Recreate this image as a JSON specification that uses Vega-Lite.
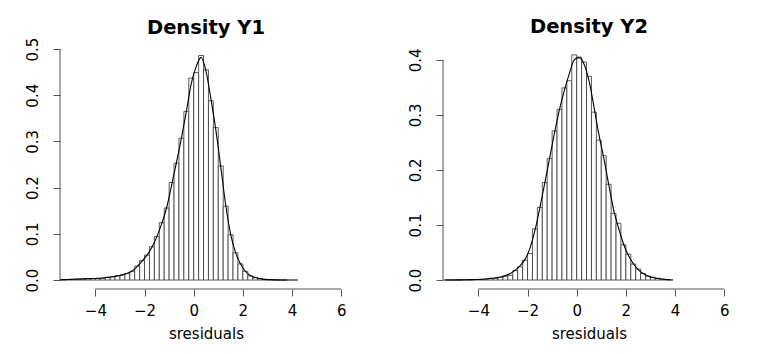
{
  "$schema": "https://vega.github.io/schema/vega-lite/v6.json",
  "padding": {"left": 25, "top": 16, "right": 5, "bottom": 5},
  "background": "white",
  "bounds": "flush",
  "spacing": 91,
  "config": {
    "font": "DejaVu Sans",
    "view": {"stroke": null},
    "axisX": {"domain": false, "grid": false, "tickSize": 7, "tickColor": "#555", "labelFontSize": 15, "labelColor": "black", "labelPadding": 7, "titleFontSize": 15, "titleFontWeight": "normal", "titleColor": "black", "titlePadding": 8, "format": "d", "values": [-4, -2, 0, 2, 4, 6], "labelFlush": false, "labelOverlap": false},
    "axisY": {"domain": false, "grid": false, "tickSize": 7, "tickColor": "#555", "labelFontSize": 15, "labelColor": "black", "labelAngle": -90, "labelPadding": 13, "format": ".1f", "labelOverlap": false},
    "title": {"fontSize": 19.5, "fontWeight": "bold", "color": "black", "baseline": "alphabetic", "anchor": "middle"}
  },
  "datasets": {
    "h1": [
      {"bin0": -5.6, "bin1": -5.4, "density": 0.0005},
      {"bin0": -5.4, "bin1": -5.2, "density": 0.0007},
      {"bin0": -5.2, "bin1": -5.0, "density": 0.001},
      {"bin0": -5.0, "bin1": -4.8, "density": 0.0015},
      {"bin0": -4.8, "bin1": -4.6, "density": 0.002},
      {"bin0": -4.6, "bin1": -4.4, "density": 0.0025},
      {"bin0": -4.4, "bin1": -4.2, "density": 0.003},
      {"bin0": -4.2, "bin1": -4.0, "density": 0.003},
      {"bin0": -4.0, "bin1": -3.8, "density": 0.0035},
      {"bin0": -3.8, "bin1": -3.6, "density": 0.004},
      {"bin0": -3.6, "bin1": -3.4, "density": 0.006},
      {"bin0": -3.4, "bin1": -3.2, "density": 0.007},
      {"bin0": -3.2, "bin1": -3.0, "density": 0.0095},
      {"bin0": -3.0, "bin1": -2.8, "density": 0.011},
      {"bin0": -2.8, "bin1": -2.6, "density": 0.014},
      {"bin0": -2.6, "bin1": -2.4, "density": 0.019},
      {"bin0": -2.4, "bin1": -2.2, "density": 0.030},
      {"bin0": -2.2, "bin1": -2.0, "density": 0.042},
      {"bin0": -2.0, "bin1": -1.8, "density": 0.054},
      {"bin0": -1.8, "bin1": -1.6, "density": 0.072},
      {"bin0": -1.6, "bin1": -1.4, "density": 0.094},
      {"bin0": -1.4, "bin1": -1.2, "density": 0.124},
      {"bin0": -1.2, "bin1": -1.0, "density": 0.156},
      {"bin0": -1.0, "bin1": -0.8, "density": 0.211},
      {"bin0": -0.8, "bin1": -0.6, "density": 0.253},
      {"bin0": -0.6, "bin1": -0.4, "density": 0.307},
      {"bin0": -0.4, "bin1": -0.2, "density": 0.365},
      {"bin0": -0.2, "bin1": 0.0, "density": 0.437},
      {"bin0": 0.0, "bin1": 0.2, "density": 0.449},
      {"bin0": 0.2, "bin1": 0.4, "density": 0.486},
      {"bin0": 0.4, "bin1": 0.6, "density": 0.455},
      {"bin0": 0.6, "bin1": 0.8, "density": 0.388},
      {"bin0": 0.8, "bin1": 1.0, "density": 0.330},
      {"bin0": 1.0, "bin1": 1.2, "density": 0.247},
      {"bin0": 1.2, "bin1": 1.4, "density": 0.160},
      {"bin0": 1.4, "bin1": 1.6, "density": 0.098},
      {"bin0": 1.6, "bin1": 1.8, "density": 0.059},
      {"bin0": 1.8, "bin1": 2.0, "density": 0.035},
      {"bin0": 2.0, "bin1": 2.2, "density": 0.019},
      {"bin0": 2.2, "bin1": 2.4, "density": 0.009},
      {"bin0": 2.4, "bin1": 2.6, "density": 0.005},
      {"bin0": 2.6, "bin1": 2.8, "density": 0.003},
      {"bin0": 2.8, "bin1": 3.0, "density": 0.0015},
      {"bin0": 3.0, "bin1": 3.2, "density": 0.0008},
      {"bin0": 3.2, "bin1": 3.4, "density": 0.0004},
      {"bin0": 3.4, "bin1": 3.6, "density": 0.0002},
      {"bin0": 3.6, "bin1": 3.8, "density": 0.0001}
    ],
    "d1": [
      {"x": -5.6, "density": 0.0003},
      {"x": -5.5, "density": 0.0005},
      {"x": -5.3, "density": 0.0008},
      {"x": -5.1, "density": 0.0012},
      {"x": -4.9, "density": 0.0016},
      {"x": -4.7, "density": 0.002},
      {"x": -4.5, "density": 0.0025},
      {"x": -4.3, "density": 0.003},
      {"x": -4.1, "density": 0.0033},
      {"x": -3.9, "density": 0.0038},
      {"x": -3.7, "density": 0.0045},
      {"x": -3.5, "density": 0.0058},
      {"x": -3.3, "density": 0.0072},
      {"x": -3.1, "density": 0.009},
      {"x": -2.9, "density": 0.0112},
      {"x": -2.7, "density": 0.0145},
      {"x": -2.5, "density": 0.0195},
      {"x": -2.3, "density": 0.029},
      {"x": -2.1, "density": 0.041},
      {"x": -1.9, "density": 0.054},
      {"x": -1.7, "density": 0.071},
      {"x": -1.5, "density": 0.094},
      {"x": -1.3, "density": 0.122},
      {"x": -1.1, "density": 0.157},
      {"x": -0.9, "density": 0.205},
      {"x": -0.7, "density": 0.255},
      {"x": -0.5, "density": 0.307},
      {"x": -0.3, "density": 0.365},
      {"x": -0.1, "density": 0.425},
      {"x": 0.1, "density": 0.462},
      {"x": 0.3, "density": 0.482},
      {"x": 0.5, "density": 0.452},
      {"x": 0.7, "density": 0.392},
      {"x": 0.9, "density": 0.325},
      {"x": 1.1, "density": 0.245},
      {"x": 1.3, "density": 0.163},
      {"x": 1.5, "density": 0.100},
      {"x": 1.7, "density": 0.060},
      {"x": 1.9, "density": 0.035},
      {"x": 2.1, "density": 0.019},
      {"x": 2.3, "density": 0.010},
      {"x": 2.5, "density": 0.0055},
      {"x": 2.7, "density": 0.003},
      {"x": 2.9, "density": 0.0015},
      {"x": 3.1, "density": 0.0008},
      {"x": 3.3, "density": 0.0004},
      {"x": 3.5, "density": 0.0002},
      {"x": 3.7, "density": 0.0001},
      {"x": 3.9, "density": 0.0001},
      {"x": 4.1, "density": 0.0},
      {"x": 4.24, "density": 0.0}
    ],
    "h2": [
      {"bin0": -5.4, "bin1": -5.2, "density": 0.0001},
      {"bin0": -5.2, "bin1": -5.0, "density": 0.0001},
      {"bin0": -5.0, "bin1": -4.8, "density": 0.0001},
      {"bin0": -4.8, "bin1": -4.6, "density": 0.0002},
      {"bin0": -4.6, "bin1": -4.4, "density": 0.0003},
      {"bin0": -4.4, "bin1": -4.2, "density": 0.0005},
      {"bin0": -4.2, "bin1": -4.0, "density": 0.0008},
      {"bin0": -4.0, "bin1": -3.8, "density": 0.001},
      {"bin0": -3.8, "bin1": -3.6, "density": 0.0015},
      {"bin0": -3.6, "bin1": -3.4, "density": 0.0025},
      {"bin0": -3.4, "bin1": -3.2, "density": 0.003},
      {"bin0": -3.2, "bin1": -3.0, "density": 0.005},
      {"bin0": -3.0, "bin1": -2.8, "density": 0.007},
      {"bin0": -2.8, "bin1": -2.6, "density": 0.0085},
      {"bin0": -2.6, "bin1": -2.4, "density": 0.017},
      {"bin0": -2.4, "bin1": -2.2, "density": 0.024},
      {"bin0": -2.2, "bin1": -2.0, "density": 0.036},
      {"bin0": -2.0, "bin1": -1.8, "density": 0.048},
      {"bin0": -1.8, "bin1": -1.6, "density": 0.093},
      {"bin0": -1.6, "bin1": -1.4, "density": 0.132},
      {"bin0": -1.4, "bin1": -1.2, "density": 0.177},
      {"bin0": -1.2, "bin1": -1.0, "density": 0.221},
      {"bin0": -1.0, "bin1": -0.8, "density": 0.271},
      {"bin0": -0.8, "bin1": -0.6, "density": 0.310},
      {"bin0": -0.6, "bin1": -0.4, "density": 0.349},
      {"bin0": -0.4, "bin1": -0.2, "density": 0.362},
      {"bin0": -0.2, "bin1": 0.0, "density": 0.409},
      {"bin0": 0.0, "bin1": 0.2, "density": 0.405},
      {"bin0": 0.2, "bin1": 0.4, "density": 0.396},
      {"bin0": 0.4, "bin1": 0.6, "density": 0.370},
      {"bin0": 0.6, "bin1": 0.8, "density": 0.305},
      {"bin0": 0.8, "bin1": 1.0, "density": 0.254},
      {"bin0": 1.0, "bin1": 1.2, "density": 0.226},
      {"bin0": 1.2, "bin1": 1.4, "density": 0.174},
      {"bin0": 1.4, "bin1": 1.6, "density": 0.121},
      {"bin0": 1.6, "bin1": 1.8, "density": 0.103},
      {"bin0": 1.8, "bin1": 2.0, "density": 0.064},
      {"bin0": 2.0, "bin1": 2.2, "density": 0.047},
      {"bin0": 2.2, "bin1": 2.4, "density": 0.029},
      {"bin0": 2.4, "bin1": 2.6, "density": 0.020},
      {"bin0": 2.6, "bin1": 2.8, "density": 0.012},
      {"bin0": 2.8, "bin1": 3.0, "density": 0.007},
      {"bin0": 3.0, "bin1": 3.2, "density": 0.005},
      {"bin0": 3.2, "bin1": 3.4, "density": 0.003},
      {"bin0": 3.4, "bin1": 3.6, "density": 0.002},
      {"bin0": 3.6, "bin1": 3.8, "density": 0.001}
    ],
    "d2": [
      {"x": -5.33, "density": 0.0},
      {"x": -5.1, "density": 0.0001},
      {"x": -4.9, "density": 0.0002},
      {"x": -4.7, "density": 0.0003},
      {"x": -4.5, "density": 0.0005},
      {"x": -4.3, "density": 0.0007},
      {"x": -4.1, "density": 0.001},
      {"x": -3.9, "density": 0.0014},
      {"x": -3.7, "density": 0.002},
      {"x": -3.5, "density": 0.003},
      {"x": -3.3, "density": 0.004},
      {"x": -3.1, "density": 0.0055},
      {"x": -2.9, "density": 0.008},
      {"x": -2.7, "density": 0.012},
      {"x": -2.5, "density": 0.018},
      {"x": -2.3, "density": 0.026},
      {"x": -2.1, "density": 0.038},
      {"x": -1.9, "density": 0.058},
      {"x": -1.7, "density": 0.090},
      {"x": -1.5, "density": 0.131},
      {"x": -1.3, "density": 0.176},
      {"x": -1.1, "density": 0.222},
      {"x": -0.9, "density": 0.268},
      {"x": -0.7, "density": 0.310},
      {"x": -0.5, "density": 0.345},
      {"x": -0.3, "density": 0.375},
      {"x": -0.1, "density": 0.400},
      {"x": 0.1, "density": 0.404},
      {"x": 0.3, "density": 0.392},
      {"x": 0.5, "density": 0.362},
      {"x": 0.7, "density": 0.315},
      {"x": 0.9, "density": 0.265},
      {"x": 1.1, "density": 0.222},
      {"x": 1.3, "density": 0.174},
      {"x": 1.5, "density": 0.128},
      {"x": 1.7, "density": 0.095},
      {"x": 1.9, "density": 0.066},
      {"x": 2.1, "density": 0.045},
      {"x": 2.3, "density": 0.030},
      {"x": 2.5, "density": 0.019},
      {"x": 2.7, "density": 0.012},
      {"x": 2.9, "density": 0.0075},
      {"x": 3.1, "density": 0.0045},
      {"x": 3.3, "density": 0.0027},
      {"x": 3.5, "density": 0.0015},
      {"x": 3.7, "density": 0.0007},
      {"x": 3.92, "density": 0.0}
    ]
  },
  "hconcat": [
    {
      "width": 292,
      "height": 242,
      "title": {"text": "Density Y1", "offset": -1},
      "layer": [
        {
          "data": {"name": "h1"},
          "mark": {"type": "rect", "fill": "white", "stroke": "#333", "strokeWidth": 0.8, "clip": true},
          "encoding": {
            "x": {"field": "bin0", "type": "quantitative", "scale": {"domain": [-5.44, 6.44], "nice": false, "zero": false}, "axis": {"title": "sresiduals"}},
            "x2": {"field": "bin1"},
            "y": {"field": "density", "type": "quantitative", "scale": {"domain": [-0.0194, 0.5044], "nice": false, "zero": false}, "axis": {"title": null, "values": [0, 0.1, 0.2, 0.3, 0.4, 0.5]}},
            "y2": {"datum": 0}
          }
        },
        {
          "data": {"name": "d1"},
          "mark": {"type": "line", "color": "black", "strokeWidth": 1.1, "interpolate": "monotone", "clip": true},
          "encoding": {
            "x": {"field": "x", "type": "quantitative"},
            "y": {"field": "density", "type": "quantitative"}
          }
        },
        {
          "data": {"values": [{}]},
          "mark": {"type": "rule", "color": "#555", "strokeWidth": 1},
          "encoding": {
            "x": {"datum": -4},
            "x2": {"datum": 6},
            "y": {"datum": -0.0194}
          }
        },
        {
          "data": {"values": [{}]},
          "mark": {"type": "rule", "color": "#555", "strokeWidth": 1},
          "encoding": {
            "x": {"datum": -5.44},
            "y": {"datum": 0},
            "y2": {"datum": 0.5}
          }
        }
      ]
    },
    {
      "width": 292,
      "height": 242,
      "title": {"text": "Density Y2", "offset": 10},
      "layer": [
        {
          "data": {"name": "h2"},
          "mark": {"type": "rect", "fill": "white", "stroke": "#333", "strokeWidth": 0.8, "clip": true},
          "encoding": {
            "x": {"field": "bin0", "type": "quantitative", "scale": {"domain": [-5.44, 6.44], "nice": false, "zero": false}, "axis": {"title": "sresiduals"}},
            "x2": {"field": "bin1"},
            "y": {"field": "density", "type": "quantitative", "scale": {"domain": [-0.0163, 0.4233], "nice": false, "zero": false}, "axis": {"title": null, "values": [0, 0.1, 0.2, 0.3, 0.4]}},
            "y2": {"datum": 0}
          }
        },
        {
          "data": {"name": "d2"},
          "mark": {"type": "line", "color": "black", "strokeWidth": 1.1, "interpolate": "monotone", "clip": true},
          "encoding": {
            "x": {"field": "x", "type": "quantitative"},
            "y": {"field": "density", "type": "quantitative"}
          }
        },
        {
          "data": {"values": [{}]},
          "mark": {"type": "rule", "color": "#555", "strokeWidth": 1},
          "encoding": {
            "x": {"datum": -4},
            "x2": {"datum": 6},
            "y": {"datum": -0.0163}
          }
        },
        {
          "data": {"values": [{}]},
          "mark": {"type": "rule", "color": "#555", "strokeWidth": 1},
          "encoding": {
            "x": {"datum": -5.44},
            "y": {"datum": 0},
            "y2": {"datum": 0.4}
          }
        }
      ]
    }
  ]
}
